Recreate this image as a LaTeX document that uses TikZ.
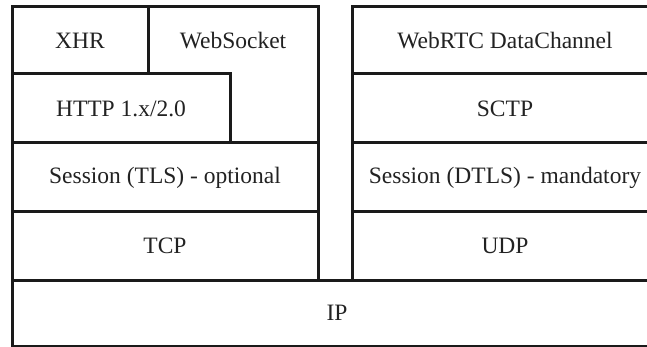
\documentclass[tikz,border=0pt]{standalone}
\usepackage{fontspec}
\setmainfont{Liberation Serif}
\definecolor{edge}{HTML}{1A1A1A}
\definecolor{txt}{HTML}{222222}
\begin{document}
\begin{tikzpicture}[x=1pt,y=-1pt,
  layer/.style={draw=edge, line width=3pt, inner sep=0pt, rectangle,
    text=txt, font=\fontsize{23.5}{28}\selectfont},
  outline/.style={draw=edge, line width=3pt, line join=miter}]
\useasboundingbox (0,0) rectangle (647,347);
\clip (0,0) rectangle (647,347);
% left stack
\node[layer, minimum width=136pt, minimum height=67pt] (xhr) at (80,40.5) {XHR};
\draw[outline] (148,7) -- (318,7) -- (318,143) -- (230,143) -- (230,74) -- (148,74) -- cycle;
\node[text=txt, font=\fontsize{23.5}{28}\selectfont] (ws) at (233,41) {WebSocket};
\node[layer, minimum width=218pt, minimum height=69pt] (http) at (121,108.5) {HTTP 1.x/2.0};
\node[layer, minimum width=306pt, minimum height=69pt] (tls) at (165,177.5) {Session (TLS) - optional};
\node[layer, minimum width=306pt, minimum height=68pt] (tcp) at (165,246) {TCP};
% right stack
\node[layer, minimum width=306pt, minimum height=67pt] (rtc) at (505,40.5) {WebRTC DataChannel};
\node[layer, minimum width=306pt, minimum height=69pt] (sctp) at (505,108.5) {SCTP};
\node[layer, minimum width=306pt, minimum height=69pt] (dtls) at (505,177.5) {Session (DTLS) - mandatory};
\node[layer, minimum width=306pt, minimum height=68pt] (udp) at (505,246) {UDP};
% IP
\node[layer, minimum width=650pt, minimum height=66pt] (ip) at (337,313) {IP};
\end{tikzpicture}
\end{document}
